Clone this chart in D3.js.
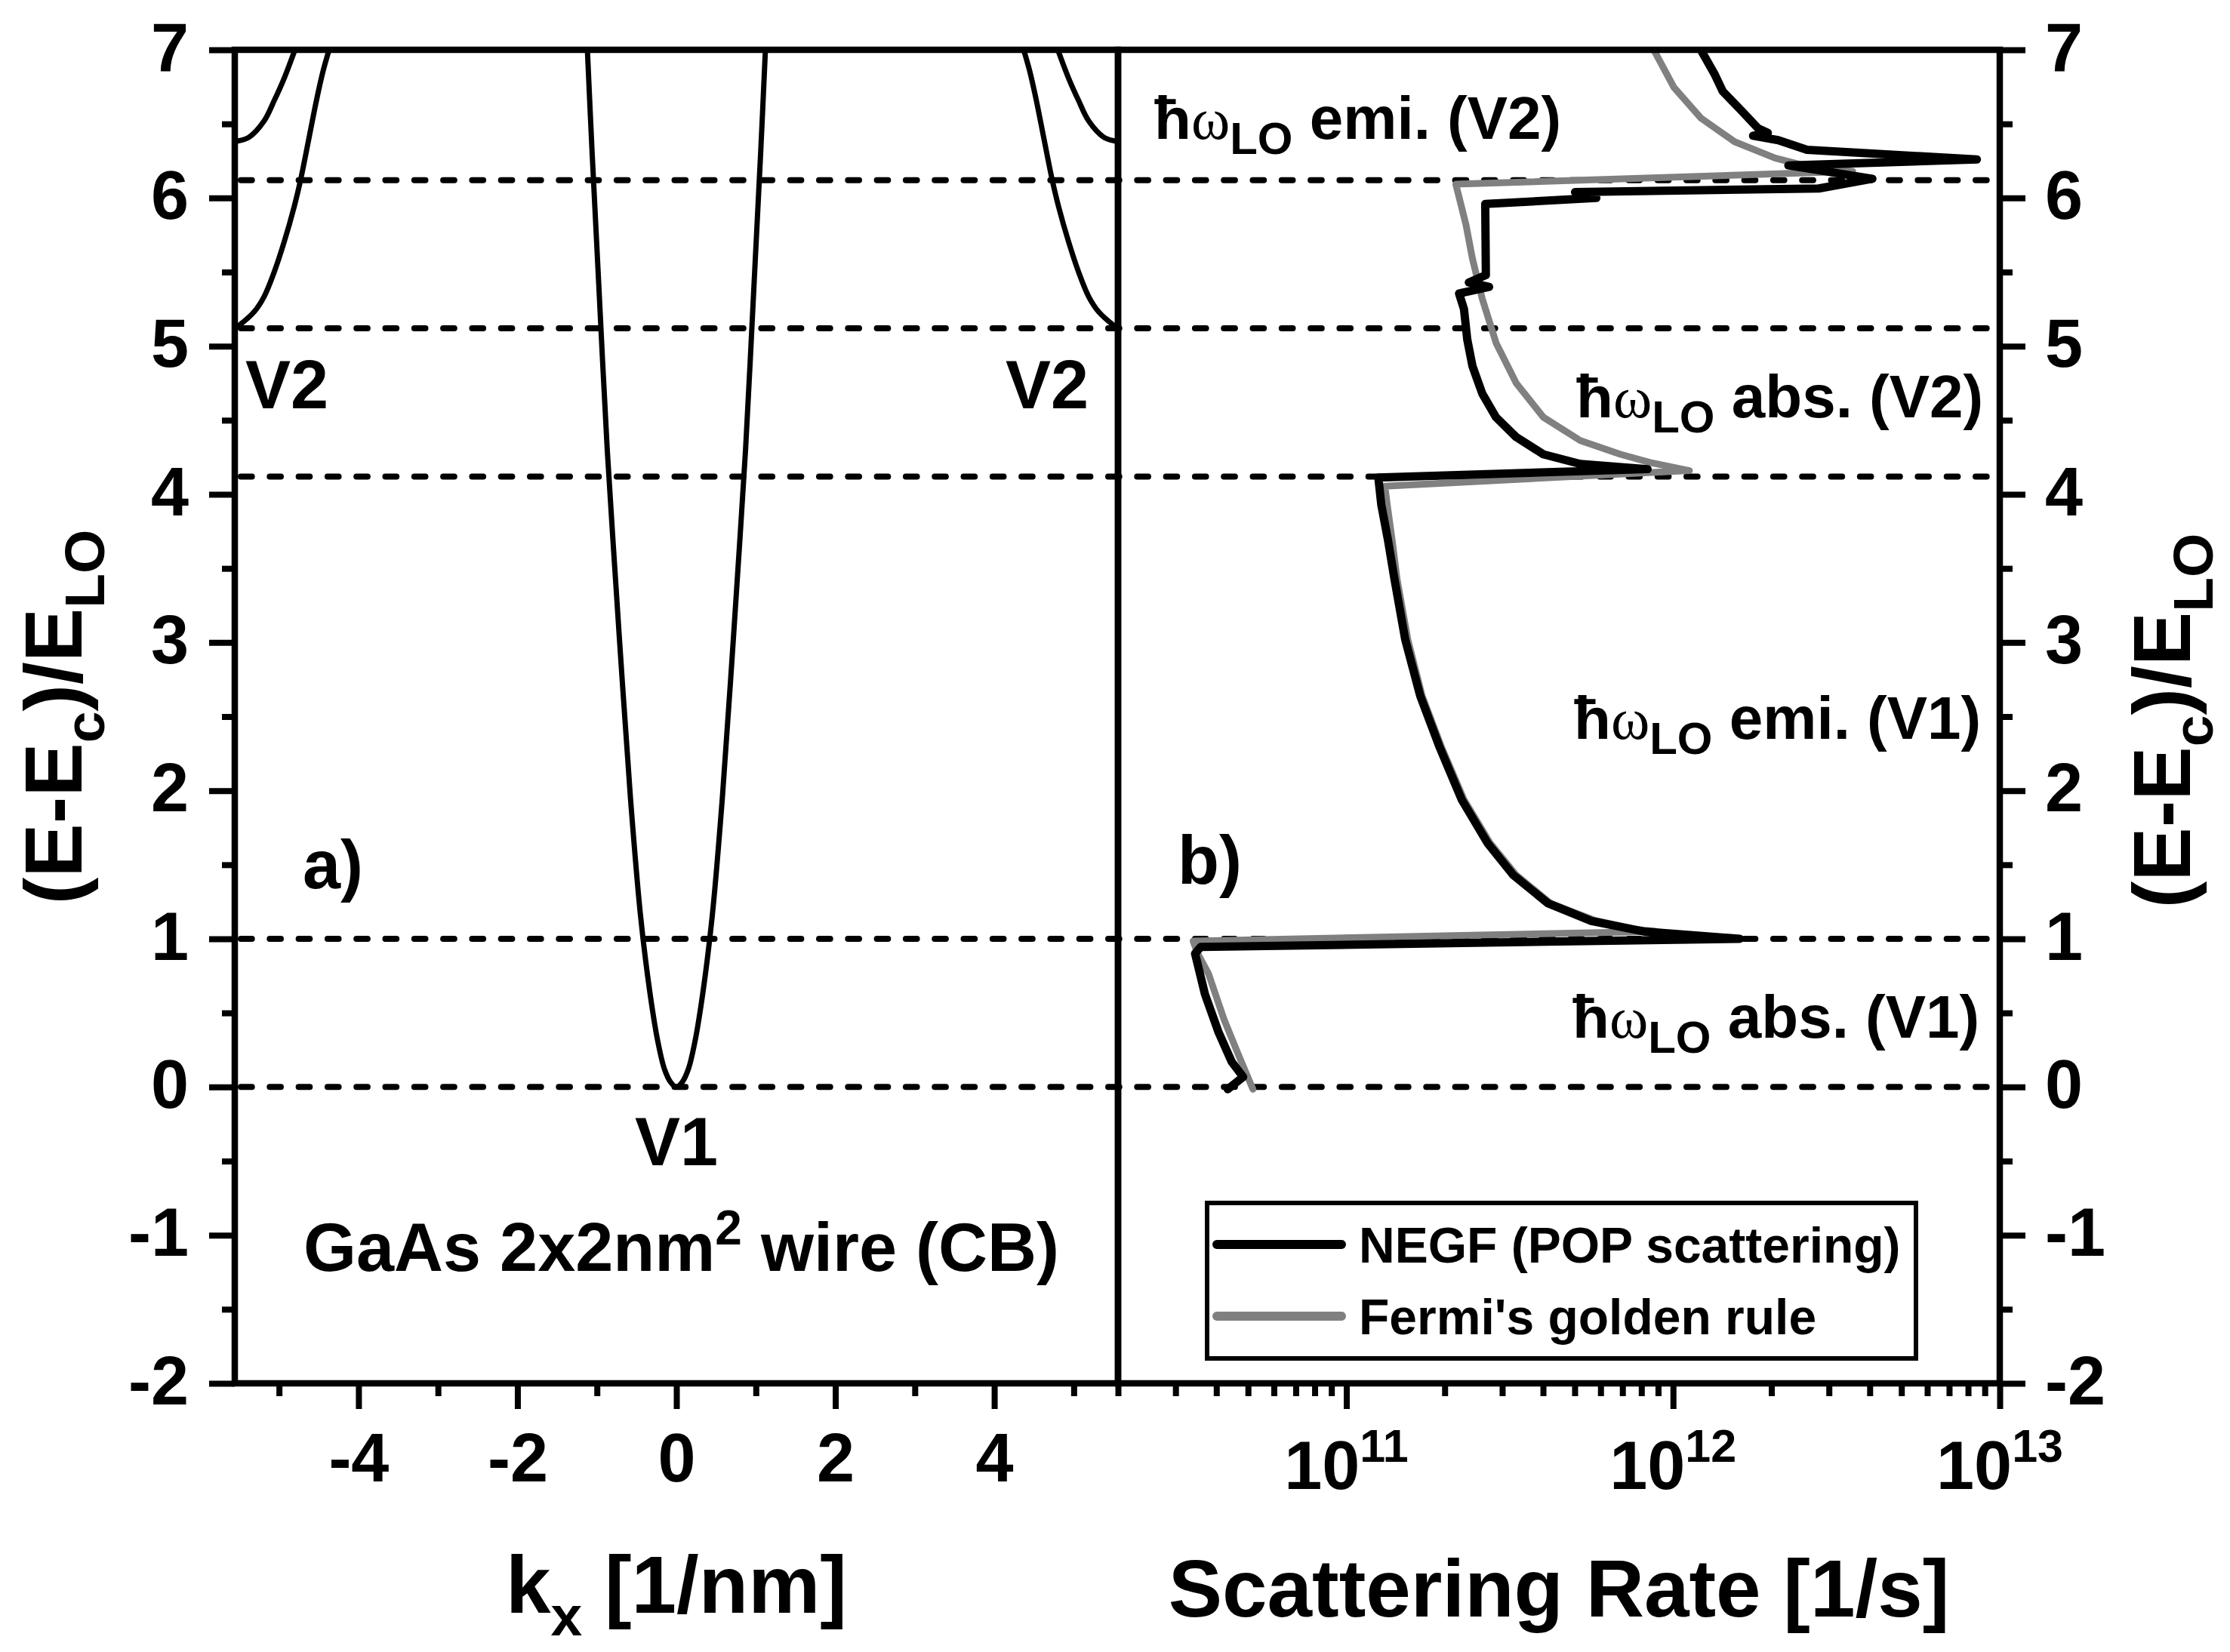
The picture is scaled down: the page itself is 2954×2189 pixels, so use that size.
<!DOCTYPE html>
<html>
<head>
<meta charset="utf-8">
<script src="https://cdn.jsdelivr.net/npm/d3@7"></script>
<style>
  body { margin: 0; background: #fff; }
  text { font-family: "Liberation Sans", Arial, sans-serif; font-weight: bold; fill: #000; }
</style>
</head>
<body>
<svg id="chart" width="2954" height="2189"></svg>
<script>
// ---- axis ticks ----
const energyTicks = [-2, -1, 0, 1, 2, 3, 4, 5, 6, 7];
const energyMinor = [-1.5, -0.5, 0.5, 1.5, 2.5, 3.5, 4.5, 5.5, 6.5];
const kTicks = [-4, -2, 0, 2, 4];
const kMinor = [-5, -3, -1, 1, 3, 5];
const rateTicks = [1e11, 1e12, 1e13];
const rateTickExp = ["11", "12", "13"];
const rateMinor = [2e10, 3e10, 4e10, 5e10, 6e10, 7e10, 8e10, 9e10,
                   2e11, 3e11, 4e11, 5e11, 6e11, 7e11, 8e11, 9e11,
                   2e12, 3e12, 4e12, 5e12, 6e12, 7e12, 8e12, 9e12];

// phonon threshold energies (dashed lines)
const phononLevels = [0, 1, 4.12, 5.12, 6.12];

// ---- panel a: band structure ----
const v1K = [-1.12, -1.06, -0.98, -0.87, -0.775, -0.68, -0.578, -0.452, -0.334, -0.231, -0.15, -0.07, 0,
             0.07, 0.15, 0.231, 0.334, 0.452, 0.578, 0.68, 0.775, 0.87, 0.98, 1.06, 1.12];
const v1E = [7.0, 6.3, 5.45, 4.3, 3.5, 2.73, 1.95, 1.16, 0.64, 0.30, 0.12, 0.03, 0,
             0.03, 0.12, 0.30, 0.64, 1.16, 1.95, 2.73, 3.5, 4.3, 5.45, 6.3, 7.0];

const v2LowLeftK = [-5.557, -5.51, -5.314, -5.188, -5.061, -4.934, -4.808, -4.729, -4.618, -4.523, -4.444, -4.37];
const v2LowLeftE = [5.12, 5.137, 5.231, 5.334, 5.50, 5.706, 5.944, 6.122, 6.419, 6.674, 6.86, 7.0];
const v2LowRightK = [5.557, 5.51, 5.314, 5.188, 5.061, 4.934, 4.808, 4.729, 4.618, 4.523, 4.444, 4.37];
const v2LowRightE = [5.12, 5.137, 5.231, 5.334, 5.50, 5.706, 5.944, 6.122, 6.419, 6.674, 6.86, 7.0];

const v2HighLeftK = [-5.557, -5.51, -5.378, -5.188, -5.061, -4.934, -4.80];
const v2HighLeftE = [6.38, 6.385, 6.41, 6.52, 6.657, 6.81, 7.0];
const v2HighRightK = [5.557, 5.51, 5.378, 5.188, 5.061, 4.934, 4.80];
const v2HighRightE = [6.38, 6.385, 6.41, 6.52, 6.657, 6.81, 7.0];

// ---- panel b: scattering rates ----
const negfRate = [1.216e12, 1.337e12, 1.419e12, 1.618e12, 1.820e12, 1.950e12, 1.758e12, 2.099e12, 2.570e12,
                  8.511e12, 2.254e12, 4.074e12, 2.793e12, 5.012e11, 5.821e11, 2.661e11, 2.673e11, 2.371e11,
                  2.735e11, 2.213e11, 2.291e11, 2.344e11, 2.432e11, 2.606e11, 2.871e11, 3.311e11, 4.009e11,
                  5.200e11, 8.356e11, 1.253e11, 1.279e11, 1.340e11, 1.403e11, 1.514e11, 1.683e11, 1.932e11,
                  2.254e11, 2.704e11, 3.243e11, 4.140e11, 5.623e11, 8.110e11, 1.600e12, 3.581e10, 3.443e10,
                  3.690e10, 4.055e10, 4.457e10, 4.831e10, 4.335e10];
const negfEnergy = [7.0, 6.84, 6.72, 6.59, 6.47, 6.44, 6.42, 6.39, 6.325,
                    6.26, 6.22, 6.13, 6.064, 6.04, 6.0, 5.96, 5.48, 5.43,
                    5.40, 5.355, 5.25, 5.046, 4.865, 4.68, 4.52, 4.386, 4.27,
                    4.205, 4.17, 4.113, 3.93, 3.695, 3.43, 3.02, 2.64, 2.29,
                    1.94, 1.647, 1.43, 1.24, 1.12, 1.05, 1.0, 0.945, 0.90,
                    0.627, 0.374, 0.17, 0.068, -0.015];

const fermiRate = [8.730e11, 1.007e12, 1.216e12, 1.542e12, 2.051e12, 2.723e12, 3.548e12, 2.163e11, 2.323e11,
                   2.432e11, 2.606e11, 2.871e11, 3.311e11, 4.009e11, 5.200e11, 6.902e11, 8.511e11, 1.122e12,
                   1.312e11, 1.334e11, 1.380e11, 1.429e11, 1.542e11, 1.706e11, 1.959e11, 2.291e11, 2.754e11,
                   3.311e11, 4.217e11, 5.754e11, 7.586e11, 8.913e11, 3.396e10, 3.508e10, 3.784e10, 4.217e10,
                   4.699e10, 5.176e10];
const fermiEnergy = [7.0, 6.745, 6.54, 6.38, 6.27, 6.2, 6.18, 6.093, 5.82,
                     5.59, 5.32, 5.023, 4.75, 4.52, 4.363, 4.27, 4.215, 4.16,
                     4.055, 3.93, 3.695, 3.43, 3.02, 2.64, 2.29, 1.94, 1.647,
                     1.43, 1.24, 1.125, 1.065, 1.05, 0.985, 0.90, 0.765, 0.459,
                     0.205, -0.015];

const legendLabels = ["NEGF (POP scattering)", "Fermi's golden rule"];
const legendColors = ["#000000", "#808080"];

// ---- layout ----
const xL0 = 311, xMid = 1481, xR1 = 2649, yTop = 66, yBot = 1833;
const svg = d3.select("#chart");

const y = d3.scaleLinear().domain([-2, 7]).range([yBot, yTop]);
const xk = d3.scaleLinear().domain([-5.557, 5.557]).range([xL0, xMid]);
const xr = d3.scaleLog().domain([2e10, 1e13]).range([xMid, xR1]);

const defs = svg.append("defs");
defs.append("clipPath").attr("id", "clipA")
  .append("rect").attr("x", xL0).attr("y", yTop).attr("width", xMid - xL0).attr("height", yBot - yTop);
defs.append("clipPath").attr("id", "clipB")
  .append("rect").attr("x", xMid).attr("y", yTop).attr("width", xR1 - xMid).attr("height", yBot - yTop);

// dashed threshold lines
svg.append("g")
  .selectAll("line")
  .data(phononLevels)
  .join("line")
  .attr("x1", xL0 + 8).attr("x2", xR1 - 4)
  .attr("y1", d => y(d)).attr("y2", d => y(d))
  .attr("stroke", "#000")
  .attr("stroke-width", 8)
  .attr("stroke-linecap", "round")
  .attr("stroke-dasharray", "14.7 23.6");

// band structure
const bandLine = d3.line()
  .x(d => xk(d[0]))
  .y(d => y(d[1]))
  .curve(d3.curveCatmullRom.alpha(0.5));

const bands = [
  d3.zip(v1K, v1E),
  d3.zip(v2LowLeftK, v2LowLeftE),
  d3.zip(v2LowRightK, v2LowRightE),
  d3.zip(v2HighLeftK, v2HighLeftE),
  d3.zip(v2HighRightK, v2HighRightE)
];

svg.append("g")
  .attr("clip-path", "url(#clipA)")
  .selectAll("path")
  .data(bands)
  .join("path")
  .attr("d", bandLine)
  .attr("fill", "none")
  .attr("stroke", "#000")
  .attr("stroke-width", 7);

// scattering rates
const rateLine = d3.line()
  .x(d => xr(d[0]))
  .y(d => y(d[1]));

const gRates = svg.append("g").attr("clip-path", "url(#clipB)");
gRates.append("path")
  .datum(d3.zip(fermiRate, fermiEnergy))
  .attr("d", rateLine)
  .attr("fill", "none")
  .attr("stroke", "#808080")
  .attr("stroke-width", 9)
  .attr("stroke-linejoin", "round")
  .attr("stroke-linecap", "round");
gRates.append("path")
  .datum(d3.zip(negfRate, negfEnergy))
  .attr("d", rateLine)
  .attr("fill", "none")
  .attr("stroke", "#000")
  .attr("stroke-width", 11)
  .attr("stroke-linejoin", "round")
  .attr("stroke-linecap", "round");

// frames
svg.append("rect")
  .attr("x", xL0).attr("y", yTop).attr("width", xMid - xL0).attr("height", yBot - yTop)
  .attr("fill", "none").attr("stroke", "#000").attr("stroke-width", 8.5);
svg.append("rect")
  .attr("x", xMid).attr("y", yTop).attr("width", xR1 - xMid).attr("height", yBot - yTop)
  .attr("fill", "none").attr("stroke", "#000").attr("stroke-width", 8.5);

// axes
function styleAxis(g, dy) {
  g.select(".domain").remove();
  g.selectAll("line").attr("stroke", "#000").attr("stroke-width", 8);
  g.selectAll("text")
    .style("font-size", "90px")
    .style("font-family", "'Liberation Sans', Arial, sans-serif")
    .style("font-weight", "bold")
    .attr("fill", "#000");
  if (dy) g.selectAll("text").attr("dy", dy);
}

const fmt = d => String(d);

svg.append("g").attr("transform", `translate(${xL0},0)`)
  .call(d3.axisLeft(y).tickValues(energyTicks).tickSize(34).tickPadding(27).tickFormat(fmt))
  .call(g => styleAxis(g, "0.3em"));
svg.append("g").attr("transform", `translate(${xL0},0)`)
  .call(d3.axisLeft(y).tickValues(energyMinor).tickSize(17).tickFormat(""))
  .call(g => styleAxis(g));

svg.append("g").attr("transform", `translate(${xR1},0)`)
  .call(d3.axisRight(y).tickValues(energyTicks).tickSize(34).tickPadding(26).tickFormat(fmt))
  .call(g => styleAxis(g, "0.3em"));
svg.append("g").attr("transform", `translate(${xR1},0)`)
  .call(d3.axisRight(y).tickValues(energyMinor).tickSize(17).tickFormat(""))
  .call(g => styleAxis(g));

svg.append("g").attr("transform", `translate(0,${yBot})`)
  .call(d3.axisBottom(xk).tickValues(kTicks).tickSize(34).tickPadding(32).tickFormat(fmt))
  .call(g => styleAxis(g));
svg.append("g").attr("transform", `translate(0,${yBot})`)
  .call(d3.axisBottom(xk).tickValues(kMinor).tickSize(17).tickFormat(""))
  .call(g => styleAxis(g));

svg.append("g").attr("transform", `translate(0,${yBot})`)
  .call(d3.axisBottom(xr).tickValues(rateTicks).tickSize(34).tickFormat(""))
  .call(g => styleAxis(g));
svg.append("g").attr("transform", `translate(0,${yBot})`)
  .call(d3.axisBottom(xr).tickValues(rateMinor).tickSize(17).tickFormat(""))
  .call(g => styleAxis(g));

// log tick labels 10^n
const rateLabels = svg.append("g")
  .selectAll("text")
  .data(d3.zip(rateTicks, rateTickExp))
  .join("text")
  .attr("x", d => xr(d[0]))
  .attr("y", 1973)
  .attr("text-anchor", "middle")
  .style("font-size", "90px");
rateLabels.append("tspan").text("10");
rateLabels.append("tspan").attr("dy", -36).style("font-size", "61px").text(d => d[1]);

// axis titles
const kTitle = svg.append("text")
  .attr("x", xk(0)).attr("y", 2137)
  .attr("text-anchor", "middle")
  .style("font-size", "107px");
kTitle.append("tspan").text("k");
kTitle.append("tspan").attr("dy", 30).style("font-size", "75px").text("x");
kTitle.append("tspan").attr("dy", -30).text(" [1/nm]");

svg.append("text")
  .attr("x", (xMid + xR1) / 2).attr("y", 2142)
  .attr("text-anchor", "middle")
  .style("font-size", "107px")
  .text("Scattering Rate [1/s]");

function energyTitle(x, yc) {
  const t = svg.append("text")
    .attr("transform", `translate(${x},${yc}) rotate(-90)`)
    .attr("text-anchor", "middle")
    .style("font-size", "107px");
  t.append("tspan").text("(E-E");
  t.append("tspan").attr("dy", 30).style("font-size", "75px").text("c");
  t.append("tspan").attr("dy", -30).text(")/E");
  t.append("tspan").attr("dy", 30).style("font-size", "75px").text("LO");
}
energyTitle(108, 950);
energyTitle(2901, 955);

// annotations
function phononNote(x, yb, rest) {
  const t = svg.append("text").attr("x", x).attr("y", yb).style("font-size", "80px");
  t.append("tspan").text("ħ");
  t.append("tspan")
    .style("font-family", "'Liberation Serif', 'DejaVu Serif', serif")
    .style("font-weight", "normal")
    .style("font-size", "78px")
    .text("ω");
  t.append("tspan").attr("dy", 20).style("font-size", "60px").text("LO");
  t.append("tspan").attr("dy", -20).text(" " + rest);
}
phononNote(1529, 184, "emi. (V2)");
phononNote(2088, 553, "abs. (V2)");
phononNote(2085, 979, "emi. (V1)");
phononNote(2083, 1375, "abs. (V1)");

function label(x, yb, s, anchor) {
  svg.append("text").attr("x", x).attr("y", yb)
    .attr("text-anchor", anchor || "start")
    .style("font-size", "90px").text(s);
}
label(401, 1177, "a)");
label(1560, 1171, "b)");
label(325, 541, "V2");
label(1332, 541, "V2");
label(xk(0), 1544, "V1", "middle");

const wire = svg.append("text").attr("x", 402).attr("y", 1684).style("font-size", "90px");
wire.append("tspan").text("GaAs 2x2nm");
wire.append("tspan").attr("dy", -35).style("font-size", "64px").text("2");
wire.append("tspan").attr("dy", 35).text(" wire (CB)");

// legend
const lg = svg.append("g");
lg.append("rect")
  .attr("x", 1599).attr("y", 1594).attr("width", 939).attr("height", 206)
  .attr("fill", "#fff").attr("stroke", "#000").attr("stroke-width", 6);
legendLabels.forEach((s, i) => {
  const yy = 1649 + i * 95;
  lg.append("line")
    .attr("x1", 1612).attr("x2", 1777).attr("y1", yy).attr("y2", yy)
    .attr("stroke", legendColors[i]).attr("stroke-width", 12).attr("stroke-linecap", "round");
  lg.append("text").attr("x", 1800).attr("y", yy + 24).style("font-size", "66px").text(s);
});
</script>
</body>
</html>
